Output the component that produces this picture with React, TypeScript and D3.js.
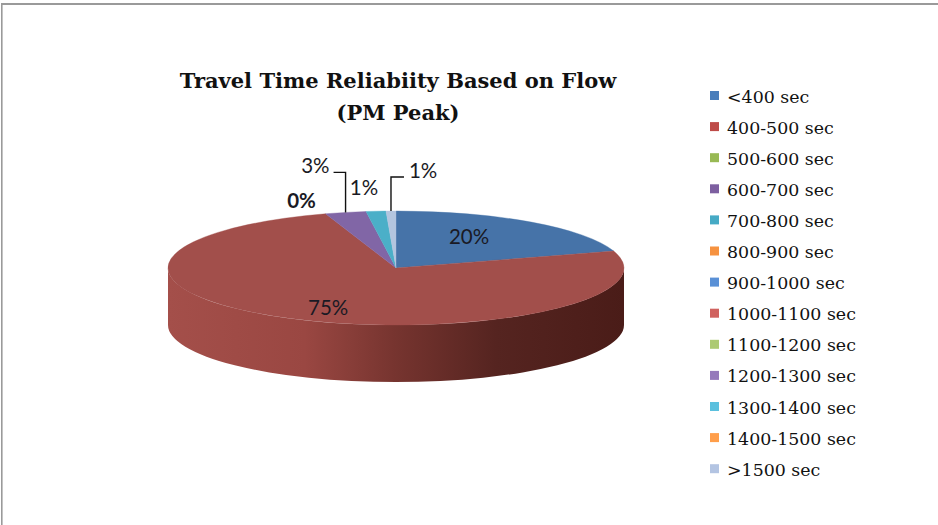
import React from "react";
import * as d3 from "d3";

const categories = [
  "<400 sec", "400-500 sec", "500-600 sec", "600-700 sec", "700-800 sec",
  "800-900 sec", "900-1000 sec", "1000-1100 sec", "1100-1200 sec",
  "1200-1300 sec", "1300-1400 sec", "1400-1500 sec", ">1500 sec",
];
const shares = [20.2, 74.8, 0, 2.9, 1.4, 0, 0, 0, 0, 0, 0, 0, 0.7];
const legendColors = [
  "#4A7EBB", "#BE4B48", "#98B954", "#7D5FA0", "#46AAC5", "#F69240",
  "#5990D6", "#D0625F", "#ADCA73", "#9579BB", "#5BC0DE", "#FF9E4A", "#B3C4E2",
];
const topColors = [
  "#4673A8", "#A24F4B", "#8FAE52", "#8166A6", "#4BAFC8", "#E98C3E",
  "#5990D6", "#D0625F", "#ADCA73", "#9579BB", "#5BC0DE", "#FF9E4A", "#B3C5DF",
];
const titleLines = ["Travel Time Reliabiity Based on Flow", "(PM Peak)"];

// label layout: inside (nudged centroid), callout (leader line), near (offset from edge)
const labelLayout: Record<number, any> = {
  0: { kind: "inside", dx: -8, dy: 4 },
  1: { kind: "inside", dx: -5, dy: 17 },
  2: { kind: "near", dx: -24, dy: -6, bold: true },
  3: { kind: "callout", rise: 40, run: -12 },
  4: { kind: "near", dx: -12, dy: -16 },
  12: { kind: "callout", rise: 34, run: 13 },
};

const W = 938, H = 525;
const cx = 396, cy = 268, rx = 228, ry = 57, depth = 57;

export default function App() {
  const pie = d3.pie<number>().sort(null).value((d) => d);
  const arcs = pie(shares);
  const arcGen = d3.arc<d3.PieArcDatum<number>>().innerRadius(0).outerRadius(rx);
  const px = (a: number, f = 1) => cx + f * rx * Math.sin(a);
  const py = (a: number, f = 1) => cy - f * ry * Math.cos(a);
  const fmt = d3.format(".0%");
  const total = d3.sum(shares);

  const sides = arcs
    .map((a, i) => {
      const s = Math.max(a.startAngle, Math.PI / 2);
      const e = Math.min(a.endAngle, (3 * Math.PI) / 2);
      if (e <= s) return null;
      const d = `M${px(s)},${py(s)} A${rx},${ry} 0 0 1 ${px(e)},${py(e)} L${px(e)},${py(e) + depth} A${rx},${ry} 0 0 0 ${px(s)},${py(s) + depth} Z`;
      return { d, i };
    })
    .filter(Boolean) as { d: string; i: number }[];

  const legendX = 710, legendY0 = 91, legendStep = 31.1;

  return (
    <svg width={W} height={H} style={{ position: "absolute", left: 0, top: 0, background: "#fff" }}
      xmlns="http://www.w3.org/2000/svg">
      <defs>
        <linearGradient id="sideGrad" gradientUnits="userSpaceOnUse" x1={cx - rx} x2={cx + rx} y1={0} y2={0}>
          <stop offset="0" stopColor="#A44F4A" />
          <stop offset="0.3" stopColor="#9A4742" />
          <stop offset="0.5" stopColor="#76342F" />
          <stop offset="0.72" stopColor="#552420" />
          <stop offset="1" stopColor="#4A1C18" />
        </linearGradient>
      </defs>
      <rect x={0} y={0} width={W} height={H} fill="#fff" />
      <line x1={1} x2={W} y1={4} y2={4} stroke="#9a9a9a" strokeWidth={2} />
      <line x1={1.8} x2={1.8} y1={3} y2={H} stroke="#9a9a9a" strokeWidth={1.6} />

      <text x={398} y={88} textAnchor="middle" fontFamily="DejaVu Serif" fontWeight="bold" fontSize={21} fill="#111">
        {titleLines[0]}
      </text>
      <text x={398} y={120} textAnchor="middle" fontFamily="DejaVu Serif" fontWeight="bold" fontSize={21} fill="#111">
        {titleLines[1]}
      </text>

      {sides.map((s) => (
        <path key={"s" + s.i} d={s.d} fill={s.i === 1 ? "url(#sideGrad)" : topColors[s.i]} />
      ))}
      <g transform={`translate(${cx},${cy}) scale(1,${ry / rx})`}>
        {arcs.map((a, i) =>
          a.endAngle > a.startAngle ? (
            <path key={"t" + i} d={arcGen(a) || ""} fill={topColors[i]} stroke={topColors[i]} strokeWidth={0.6} />
          ) : null
        )}
      </g>

      {arcs.map((a, i) => {
        const L = labelLayout[i];
        if (!L) return null;
        const m = (a.startAngle + a.endAngle) / 2;
        const txt = fmt(a.value / total);
        const common = { fontFamily: "Lato", fontSize: 20.5, fill: "#1a1a24" } as any;
        if (L.kind === "inside") {
          return (
            <text key={"l" + i} x={px(m, 0.6) + L.dx} y={py(m, 0.6) + L.dy} textAnchor="middle" {...common}>
              {txt}
            </text>
          );
        }
        const ax = px(m), ay = py(m);
        if (L.kind === "near") {
          return (
            <text key={"l" + i} x={ax + L.dx} y={ay + L.dy} textAnchor="middle" {...common}
              fontWeight={L.bold ? "bold" : "normal"}>
              {txt}
            </text>
          );
        }
        const ey = ay - L.rise;
        const hx = ax + L.run;
        return (
          <g key={"l" + i}>
            <path d={`M${ax},${ay} L${ax},${ey} L${hx},${ey}`} fill="none" stroke="#111" strokeWidth={1.4} />
            <text x={hx + (L.run < 0 ? -4 : 5)} y={ey + 1} textAnchor={L.run < 0 ? "end" : "start"} {...common}>
              {txt}
            </text>
          </g>
        );
      })}

      {categories.map((c, i) => (
        <g key={"lg" + i} transform={`translate(${legendX},${legendY0 + i * legendStep})`}>
          <rect x={0} y={0} width={9} height={9} fill={legendColors[i]} />
          <text x={17} y={11.5} fontFamily="DejaVu Serif" fontSize={17.4} fill="#111">
            {c}
          </text>
        </g>
      ))}
    </svg>
  );
}
